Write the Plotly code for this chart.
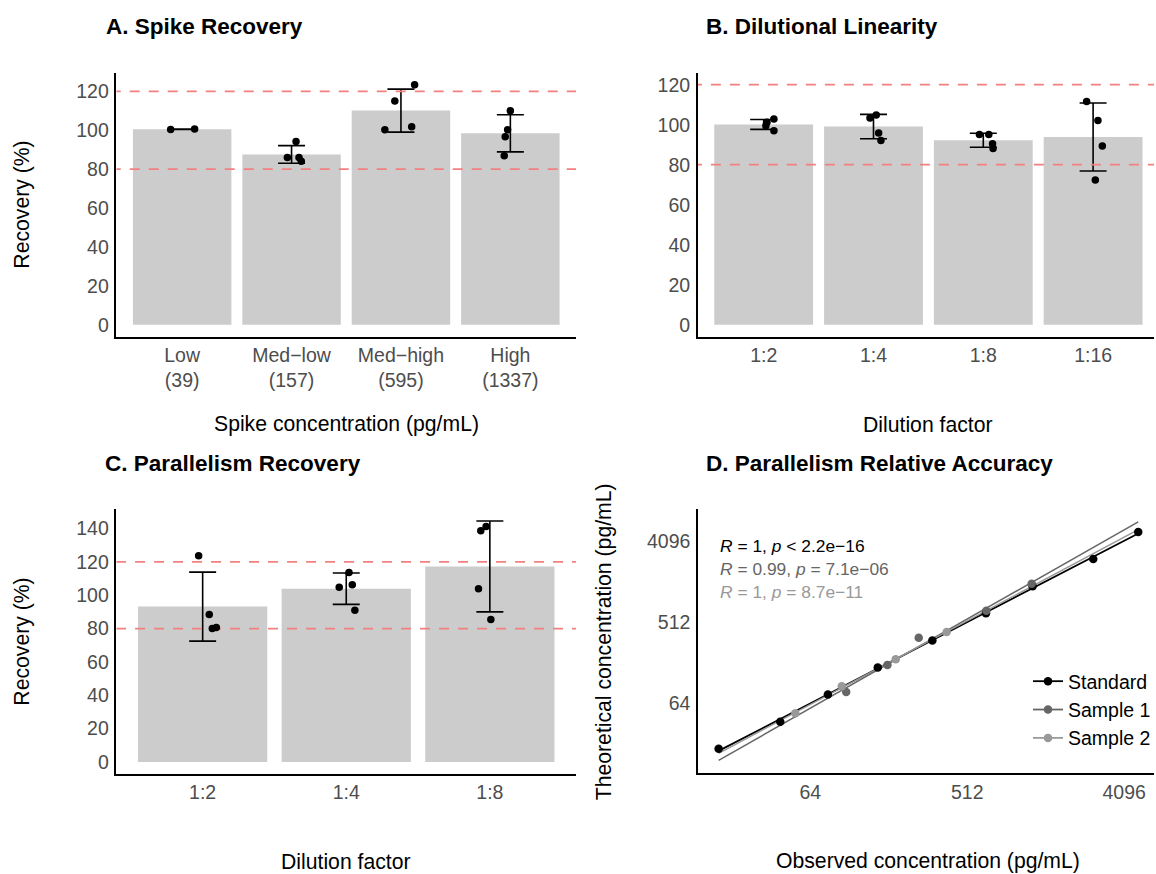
import numpy as np
import plotly.graph_objects as go

W, H = 1156, 874
FONT = "Liberation Sans, Arial, sans-serif"

# ---------------- Data ----------------
# Panel A: Spike recovery (%)
a_labels = ["Low<br>(39)", "Med\u2212low<br>(157)", "Med\u2212high<br>(595)", "High<br>(1337)"]
a_points = [[100.4, 100.6],
            [94.2, 86.0, 86.0, 84.0],
            [123.4, 115.0, 100.2, 101.8],
            [110.0, 100.2, 96.6, 86.9]]
a_jitter = [[-0.105, 0.114],
            [0.041, -0.038, 0.068, 0.089],
            [0.125, -0.056, -0.147, 0.098],
            [0.0, -0.025, -0.047, -0.056]]

# Panel B: Dilutional linearity (%)
b_labels = ["1:2", "1:4", "1:8", "1:16"]
b_points = [[102.8, 97.0, 101.2, 99.5],
            [104.9, 103.4, 95.8, 92.1],
            [95.1, 95.1, 90.5, 88.1],
            [111.6, 102.1, 89.3, 72.4]]
b_jitter = [[0.093, 0.093, 0.03, 0.02],
            [0.025, -0.032, 0.047, 0.068],
            [-0.035, 0.05, 0.084, 0.089],
            [-0.059, 0.044, 0.084, 0.02]]

# Panel C: Parallelism recovery (%)
c_labels = ["1:2", "1:4", "1:8"]
c_points = [[123.6, 88.4, 80.0, 80.6],
            [113.6, 104.8, 106.2, 91.0],
            [141.2, 138.6, 103.8, 85.4]]
c_jitter = [[-0.028, 0.046, 0.067, 0.095],
            [0.019, -0.049, 0.042, 0.06],
            [-0.026, -0.063, -0.079, 0.007]]

limits = [80, 120]

# Panel D: Parallelism relative accuracy (pg/mL)
std_obs = [19.0, 43.0, 80.8, 156.5, 322.7, 656.6, 1218, 2721, 4938]
std_theo = [20, 40, 80, 160, 320, 640, 1280, 2560, 5120]
s1_obs = [103, 177.9, 269.3, 660, 1203]
s1_theo = [85.4, 170.8, 341.6, 683, 1366]
s2_obs = [52.5, 97.2, 198.6, 390]
s2_theo = [49.5, 99, 198, 396]
d_groups = ["Standard", "Sample 1", "Sample 2"]
d_colors = ["#000000", "#666666", "#999999"]
d_stats = ["<i>R</i> = 1, <i>p</i> &lt; 2.2e\u221216",
           "<i>R</i> = 0.99, <i>p</i> = 7.1e\u221206",
           "<i>R</i> = 1, <i>p</i> = 8.7e\u221211"]
d_ticks = [64, 512, 4096]


def px(x):
    return x / W


def py(y):
    return 1 - y / H


fig = go.Figure()

TICKFONT = dict(family=FONT, size=19.5, color="#4d4d4d")


def bar_panel(xa, ya, labels, points, jitter):
    xs = np.arange(1, len(labels) + 1)
    means = [float(np.mean(p)) for p in points]
    sds = [float(np.std(p, ddof=1)) for p in points]
    fig.add_trace(go.Bar(x=xs, y=means, width=0.9, marker=dict(color="#cccccc", line=dict(width=0)),
                         error_y=dict(type="data", array=sds, visible=True, color="black",
                                      thickness=1.6, width=13.5),
                         xaxis=xa, yaxis=ya, showlegend=False, hoverinfo="skip"))
    for h in limits:
        fig.add_trace(go.Scatter(x=[0, len(labels) + 1], y=[h, h], mode="lines",
                                 line=dict(color="#f28080", width=1.8, dash="10px,9px"),
                                 xaxis=xa, yaxis=ya, showlegend=False, hoverinfo="skip"))
    px_, py_ = [], []
    for i, (p, j) in enumerate(zip(points, jitter)):
        for v, jj in zip(p, j):
            px_.append(xs[i] + jj)
            py_.append(v)
    fig.add_trace(go.Scatter(x=px_, y=py_, mode="markers", marker=dict(color="black", size=7.5),
                             xaxis=xa, yaxis=ya, showlegend=False, hoverinfo="skip"))


bar_panel("x", "y", a_labels, a_points, a_jitter)
bar_panel("x2", "y2", b_labels, b_points, b_jitter)
bar_panel("x3", "y3", c_labels, c_points, c_jitter)

# Panel D
groups = [(std_obs, std_theo), (s1_obs, s1_theo), (s2_obs, s2_theo)]
all_obs = std_obs + s1_obs + s2_obs
xmin, xmax = min(all_obs), max(all_obs)
for (obs, theo), name, col in zip(groups, d_groups, d_colors):
    lx = np.log2(obs)
    ly = np.log2(theo)
    slope, icpt = np.polyfit(lx, ly, 1)
    fx = np.array([np.log2(xmin), np.log2(xmax)])
    fy = icpt + slope * fx
    fig.add_trace(go.Scatter(x=2 ** fx, y=2 ** fy, mode="lines",
                             line=dict(color=col, width=1.8 if name == "Standard" else 1.5),
                             xaxis="x4", yaxis="y4", showlegend=False, hoverinfo="skip"))
for (obs, theo), name, col in zip(groups, d_groups, d_colors):
    fig.add_trace(go.Scatter(x=obs, y=theo, mode="markers", marker=dict(color=col, size=8.5),
                             xaxis="x4", yaxis="y4", showlegend=False, hoverinfo="skip"))
for name, col in zip(d_groups, d_colors):
    fig.add_trace(go.Scatter(x=[None], y=[None], mode="lines+markers", name=name,
                             line=dict(color=col, width=1.8), marker=dict(color=col, size=8.5),
                             xaxis="x4", yaxis="y4", showlegend=True))

xaxis_common = dict(showline=True, linecolor="black", linewidth=1.6, showgrid=False, zeroline=False,
                    ticks="", tickfont=TICKFONT, fixedrange=True)
yaxis_common = dict(showline=True, linecolor="black", linewidth=1.6, showgrid=False, zeroline=False,
                    ticks="outside", ticklen=2, tickcolor="rgba(0,0,0,0)", tickfont=TICKFONT,
                    fixedrange=True)

top_y = [py(336.7), py(72.7)]
bot_y = [py(774), py(509.3)]

fig.update_layout(
    width=W, height=H, margin=dict(l=0, r=0, t=0, b=0),
    paper_bgcolor="white", plot_bgcolor="white",
    font=dict(family=FONT, color="black"),
    xaxis=dict(domain=[px(116.7), px(577)], range=[0.4, 4.6], tickvals=[1, 2, 3, 4], ticktext=a_labels,
               anchor="y", **xaxis_common),
    yaxis=dict(domain=top_y, range=[-6.17, 129.6], tickvals=list(range(0, 121, 20)), anchor="x",
               **yaxis_common),
    xaxis2=dict(domain=[px(699), 1.0], range=[0.4, 0.4 + (W - 699) / 110.0], tickvals=[1, 2, 3, 4],
                ticktext=b_labels, anchor="y2", **xaxis_common),
    yaxis2=dict(domain=top_y, range=[-6.0, 126.0], tickvals=list(range(0, 121, 20)), anchor="x2",
                **yaxis_common),
    xaxis3=dict(domain=[px(116.7), px(577)], range=[0.4, 3.6], tickvals=[1, 2, 3], ticktext=c_labels,
                anchor="y3", **xaxis_common),
    yaxis3=dict(domain=bot_y, range=[-7.2, 151.5], tickvals=list(range(0, 141, 20)), anchor="x3",
                **yaxis_common),
    xaxis4=dict(domain=[px(699.3), 1.0], type="log", range=[3.855 * np.log10(2), 12.571 * np.log10(2)],
                tickvals=d_ticks, ticktext=[str(t) for t in d_ticks], anchor="y4", **xaxis_common),
    yaxis4=dict(domain=[py(773.3), py(509.3)], type="log", range=[3.417 * np.log10(2), 13.16 * np.log10(2)],
                tickvals=d_ticks, ticktext=[str(t) for t in d_ticks], anchor="x4", **yaxis_common),
    legend=dict(x=px(1030), y=py(662), xanchor="left", yanchor="top", bgcolor="rgba(0,0,0,0)",
                font=dict(family=FONT, size=19.5, color="black"), itemwidth=30, tracegroupgap=0),
    showlegend=True,
)

ann = []
# panel titles
for text, x, y in [("A. Spike Recovery", 104, 26), ("B. Dilutional Linearity", 705, 26),
                   ("C. Parallelism Recovery", 103, 464), ("D. Parallelism Relative Accuracy", 705, 464)]:
    ann.append(dict(text="<b>%s</b>" % text, x=px(x), y=py(y), xref="paper", yref="paper",
                    xanchor="left", yanchor="middle", showarrow=False,
                    font=dict(family=FONT, size=22.5, color="black")))
# axis titles
for text, x, y, ang in [("Spike concentration (pg/mL)", 347, 424, 0),
                        ("Dilution factor", 930, 424, 0),
                        ("Dilution factor", 347, 861, 0),
                        ("Observed concentration (pg/mL)", 930, 861, 0),
                        ("Recovery (%)", 22, 204.7, -90),
                        ("Recovery (%)", 22, 641.7, -90),
                        ("Theoretical concentration (pg/mL)", 605, 641.3, -90)]:
    ann.append(dict(text=text, x=px(x), y=py(y), xref="paper", yref="paper", textangle=ang,
                    xanchor="center", yanchor="middle", showarrow=False,
                    font=dict(family=FONT, size=21.2, color="black")))
# correlation stats
for i, (t, col) in enumerate(zip(d_stats, d_colors)):
    ann.append(dict(text=t, x=px(719), y=py(546 + 23 * i), xref="paper", yref="paper",
                    xanchor="left", yanchor="middle", showarrow=False,
                    font=dict(family=FONT, size=17.4, color=col)))
fig.update_layout(annotations=ann)

fig.write_html("out.html", config={"displayModeBar": False},
               post_script="document.body.style.margin='0';document.body.style.overflow='hidden';")
